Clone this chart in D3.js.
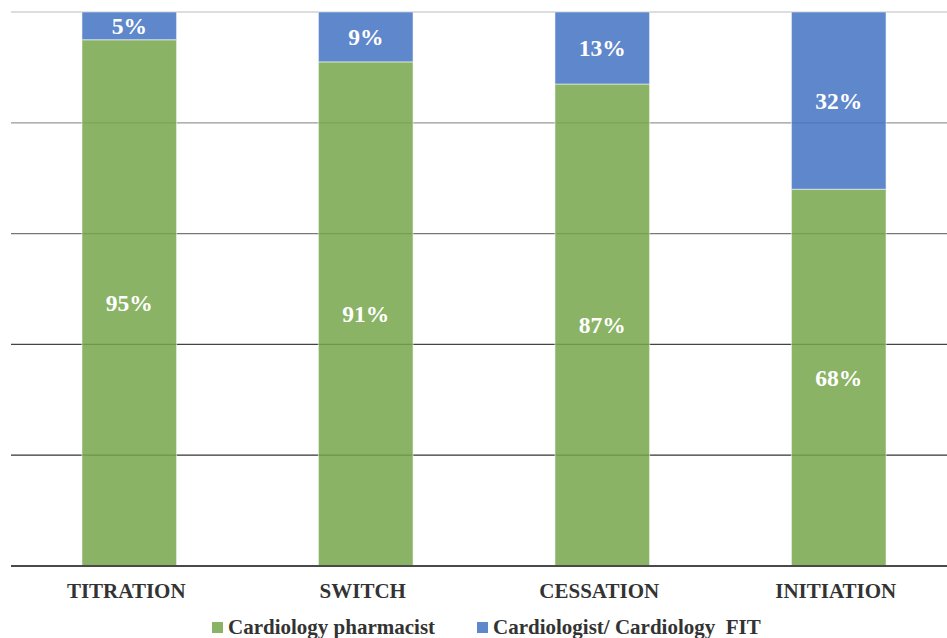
<!DOCTYPE html>
<html>
<head>
<meta charset="utf-8">
<script src="https://cdn.jsdelivr.net/npm/d3@7/dist/d3.min.js"></script>
<style>
  html, body { margin: 0; padding: 0; background: #fff; }
  svg { display: block; }
  text { font-family: "Liberation Serif", "Times New Roman", serif; font-weight: bold; }
</style>
</head>
<body>
<svg id="chart" width="947" height="638"></svg>
<script>
// Who made each medication change, as a share of all changes
const categories = ["TITRATION", "SWITCH", "CESSATION", "INITIATION"];
const seriesNames = ["Cardiology pharmacist", "Cardiologist/ Cardiology  FIT"];
const pharmacist = [95, 91, 87, 68];
const cardiologist = [5, 9, 13, 32];
const yTicks = [0, 20, 40, 60, 80, 100];

const colors = ["rgb(117,166,75)", "rgb(67,114,194)"];
const gridColors = ["#555", "#333", "#444", "#777", "#999", "#bbb"];
const FONT = "'Liberation Serif', 'Times New Roman', serif";

const svg = d3.select("#chart");
const W = 947, H = 638;

const x = d3.scaleBand()
  .domain(categories)
  .range([11, 957])
  .paddingInner(0.6)
  .paddingOuter(0.3);

const y = d3.scaleLinear().domain([0, 100]).range([566, 12]);

// Horizontal gridlines
svg.append("g").selectAll("line")
  .data(yTicks.filter(t => t > 0))
  .join("line")
  .attr("x1", 11).attr("x2", W)
  .attr("y1", d => y(d)).attr("y2", d => y(d))
  .attr("stroke", d => gridColors[yTicks.indexOf(d)])
  .attr("stroke-width", 1.2);

// Stack the two series
const rows = categories.map((c, i) => ({ cat: c, s0: pharmacist[i], s1: cardiologist[i] }));
const stack = d3.stack().keys(["s0", "s1"])(rows);

const layers = svg.append("g").selectAll("g")
  .data(stack)
  .join("g")
  .attr("fill", (d, i) => colors[i])
  .attr("fill-opacity", 0.85);

layers.selectAll("rect")
  .data(d => d)
  .join("rect")
  .attr("x", d => x(d.data.cat))
  .attr("width", x.bandwidth())
  .attr("y", d => y(d[1]))
  .attr("height", d => y(d[0]) - y(d[1]))
  .attr("stroke", "rgba(255,255,255,0.45)")
  .attr("stroke-width", 1.2);

// Value labels centered in each segment
const labels = svg.append("g");
stack.forEach(layer => {
  labels.selectAll(null)
    .data(layer)
    .join("text")
    .attr("x", d => x(d.data.cat) + x.bandwidth() / 2)
    .attr("y", d => (y(d[0]) + y(d[1])) / 2 + 8)
    .attr("text-anchor", "middle")
    .attr("fill", "#fff")
    .attr("font-family", FONT)
    .attr("font-size", 23.5)
    .text(d => (d[1] - d[0]) + "%");
});

// Baseline axis
svg.append("line")
  .attr("x1", 11).attr("x2", W)
  .attr("y1", y(0)).attr("y2", y(0))
  .attr("stroke", "#4a4a4a").attr("stroke-width", 2);

// Category labels
const xAxis = d3.axisBottom(x).tickSize(0).tickPadding(0);
const gx = svg.append("g").attr("transform", `translate(-3,${y(0)})`).call(xAxis)
  .attr("font-family", FONT);
gx.select(".domain").remove();
gx.selectAll("text")
  .attr("dy", null)
  .attr("y", 32)
  .attr("fill", "#333")
  .attr("font-size", 21)
  .attr("font-family", FONT)
  .attr("font-weight", "bold");

// Legend
const legendItems = [
  { name: seriesNames[0], color: colors[0], x: 212 },
  { name: seriesNames[1], color: colors[1], x: 477 }
];
const lg = svg.append("g").selectAll("g")
  .data(legendItems)
  .join("g")
  .attr("transform", d => `translate(${d.x},622)`);
lg.append("rect")
  .attr("width", 11).attr("height", 11)
  .attr("fill", d => d.color).attr("fill-opacity", 0.85);
lg.append("text")
  .attr("x", 16).attr("y", 12)
  .attr("fill", "#333")
  .attr("font-family", FONT)
  .attr("font-size", 21)
  .style("white-space", "pre")
  .text(d => d.name);
</script>
</body>
</html>
